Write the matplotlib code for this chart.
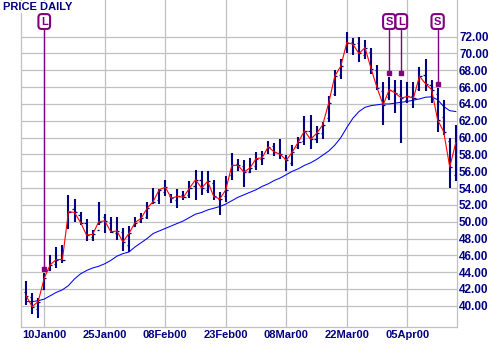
import numpy as np
import pandas as pd
import matplotlib
matplotlib.use('Agg')
import matplotlib.pyplot as plt

plt.rcParams['font.family'] = ['Liberation Sans', 'DejaVu Sans']

# sessoes de negociacao (sem feriados de 17Jan e 21Feb)
datas = [d for d in pd.bdate_range('2000-01-05', '2000-04-17')
         if d not in (pd.Timestamp('2000-01-17'), pd.Timestamp('2000-02-21'))]

abertura = [41.6, 41.0, 39.6, 42.0, 44.3, 45.0, 45.6, 49.5, 51.5, 50.8,
            49.8, 48.2, 49.0, 50.5, 49.9, 48.7, 48.8, 47.2, 49.5, 50.1,
            50.6, 52.2, 52.6, 53.5, 53.1, 52.6, 53.2, 53.2, 54.2, 55.0,
            53.8, 54.6, 52.7, 53.0, 55.5, 56.9, 56.6, 55.9, 56.6, 57.4,
            58.5, 59.0, 58.2, 57.6, 57.0, 58.9, 59.6, 60.8, 59.8, 60.6,
            62.3, 65.2, 67.5, 70.5, 71.4, 71.2, 69.8, 70.2, 68.0, 65.5,
            64.8, 65.6, 65.2, 64.5, 64.9, 65.8, 67.4, 66.2, 65.2, 62.4,
            59.6, 55.5]
maxima = [42.9, 41.5, 40.9, 43.9, 46.0, 47.0, 47.2, 53.2, 52.7, 51.1,
          50.3, 49.0, 52.3, 50.9, 50.5, 50.5, 49.2, 49.5, 50.6, 51.0,
          52.3, 54.0, 53.9, 55.0, 53.3, 53.9, 53.6, 54.8, 56.2, 56.0,
          56.0, 55.0, 53.5, 55.4, 58.2, 57.5, 57.3, 57.6, 58.3, 58.4,
          59.6, 59.3, 59.8, 57.9, 59.1, 60.1, 62.6, 62.7, 61.4, 61.9,
          64.9, 68.0, 69.3, 72.5, 71.8, 72.0, 71.6, 70.6, 68.6, 66.6,
          67.2, 66.8, 66.8, 66.6, 66.6, 68.4, 69.3, 66.9, 65.9, 64.5,
          59.9, 61.5]
minimas = [40.1, 39.0, 38.6, 41.9, 44.1, 44.5, 45.1, 49.1, 50.0, 49.6,
           47.7, 47.7, 49.6, 48.6, 48.6, 47.8, 46.5, 46.4, 49.4, 49.8,
           50.3, 52.1, 52.1, 53.0, 52.2, 51.6, 52.6, 52.8, 52.6, 53.2,
           53.4, 52.6, 50.8, 52.4, 55.0, 56.0, 54.1, 55.8, 56.2, 56.8,
           58.1, 57.8, 57.5, 56.0, 56.6, 58.7, 59.1, 58.7, 59.3, 59.8,
           61.9, 64.9, 67.0, 70.0, 69.8, 69.0, 69.4, 67.6, 65.7, 61.5,
           64.5, 62.9, 59.4, 64.1, 63.5, 65.5, 65.5, 64.1, 60.7, 60.3,
           54.0, 54.8]
fechamento = [41.2, 39.9, 40.5, 43.3, 44.9, 45.5, 45.5, 51.2, 51.1, 49.9,
              48.4, 48.5, 50.0, 50.1, 48.8, 48.9, 47.6, 48.6, 49.9, 50.4,
              51.6, 52.4, 53.8, 54.1, 52.8, 53.0, 52.9, 54.0, 55.0, 54.0,
              54.8, 53.0, 52.7, 53.8, 56.7, 56.7, 55.9, 56.4, 57.5, 57.6,
              58.9, 58.3, 58.0, 57.3, 58.3, 59.5, 60.8, 59.8, 60.5, 61.5,
              64.1, 67.3, 68.5, 71.3, 71.1, 70.0, 70.7, 68.2, 65.9, 63.9,
              65.7, 65.3, 64.7, 64.9, 64.7, 67.3, 66.4, 65.7, 62.1, 60.7,
              56.5, 59.4]
media = [40.5, 40.5, 40.6, 40.8, 41.2, 41.6, 41.9, 42.4, 43.2, 43.8,
         44.2, 44.5, 44.7, 45.0, 45.4, 45.9, 46.2, 46.4, 47.0, 47.5,
         48.0, 48.6, 48.9, 49.2, 49.5, 49.8, 50.1, 50.5, 50.9, 51.1,
         51.4, 51.6, 51.8, 52.1, 52.5, 52.9, 53.2, 53.5, 53.8, 54.2,
         54.5, 54.9, 55.2, 55.6, 56.0, 56.3, 56.7, 57.0, 57.4, 57.9,
         58.4, 59.1, 60.0, 61.2, 62.3, 63.1, 63.6, 63.8, 63.9, 64.0,
         64.0, 64.1, 64.2, 64.3, 64.45, 64.6, 64.8, 64.85, 64.5, 63.7,
         63.2, 63.1]

# sinais: (data, letra, valor do marcador)
sinais = [('2000-01-10', 'L', 44.4), ('2000-03-31', 'S', 67.7),
          ('2000-04-04', 'L', 67.7), ('2000-04-12', 'S', 66.4)]

datas_ticks = ['2000-01-10', '2000-01-25', '2000-02-08', '2000-02-23',
               '2000-03-08', '2000-03-22', '2000-04-05']

navy = '#000080'
roxo = '#800080'

x = np.arange(len(datas))
idx = {d: i for i, d in enumerate(datas)}

fig = plt.figure(figsize=(5, 3.45), dpi=100)
ax = fig.add_axes([21/500, 18/345, 436/500, 327/345])

ax.vlines(x, minimas, maxima, color=navy, linewidth=1.5, zorder=3)
ax.hlines(abertura, x - 0.35, x, color=navy, linewidth=0.9, zorder=3)
ax.hlines(fechamento, x, x + 0.35, color=navy, linewidth=0.9, zorder=3)
ax.plot(x, fechamento, color='#ff0000', linewidth=0.8, zorder=4)
ax.plot(x, media, color='#0000ff', linewidth=0.75, zorder=2)

for d, letra, v in sinais:
    i = idx[pd.Timestamp(d)]
    ax.plot([i, i], [v, 73.8], color=roxo, linewidth=1.0, zorder=5)
    ax.plot(i, v, 's', color=roxo, markersize=2.3, zorder=5)
    ax.text(i, 73.8, letra, color=roxo, fontsize=8, fontweight='bold',
            ha='center', va='center', zorder=6,
            bbox=dict(boxstyle='round,pad=0.22,rounding_size=0.3',
                      facecolor='white', edgecolor=roxo, linewidth=1.5))

ax.set_xlim(-0.84, 71.2)
ax.set_ylim(37.48, 76.36)

ticks_x = [idx[pd.Timestamp(d)] for d in datas_ticks]
ax.set_xticks(ticks_x)
ax.set_xticklabels([pd.Timestamp(d).strftime('%d%b%y') for d in datas_ticks])
ax.set_yticks(np.arange(40, 73, 2))
ax.set_yticklabels(['%.2f' % v for v in np.arange(40, 73, 2)])
ax.yaxis.tick_right()
ax.tick_params(axis='both', length=0, colors=navy)
ax.tick_params(axis='y', pad=1.5, labelsize=8.5)
ax.tick_params(axis='x', pad=2, labelsize=8)
for lab in ax.get_xticklabels() + ax.get_yticklabels():
    lab.set_fontweight('bold')

ax.grid(True, color='#c0c0c0', linewidth=0.9)
ax.set_axisbelow(True)
for s in ['left', 'bottom', 'right']:
    ax.spines[s].set_color('#c0c0c0')
    ax.spines[s].set_linewidth(0.9)
ax.spines['top'].set_visible(False)

fig.text(3/500, 1 - 2/345, 'PRICE DAILY', color=navy, fontsize=8,
         fontweight='bold', ha='left', va='top',
         bbox=dict(facecolor='white', edgecolor='none', pad=0.5))

plt.savefig('out.png', dpi=100)
